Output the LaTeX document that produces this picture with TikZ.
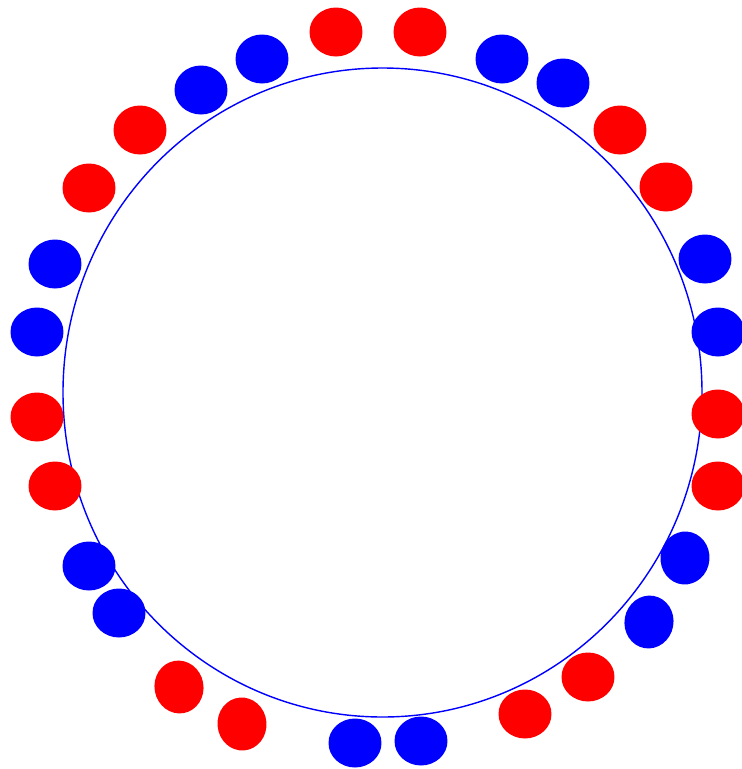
\documentclass[tikz,border=0pt]{standalone}
\usepackage{xcolor}
\usepackage{tikz}
\usetikzlibrary{shapes.geometric}

\begin{document}
\begin{tikzpicture}[
  x=0.02cm, y=-0.02cm,
  ring/.style={draw=blue, line width=0.8pt},
  dot/.style={ellipse, inner sep=0pt, minimum width=1.06cm, minimum height=0.98cm},
]
  \useasboundingbox (0,0) rectangle (742,769);

  \draw[ring] (382.5,392.5) ellipse [x radius=319.5, y radius=324.5];

  % beads round the ring, clockwise from the top
  \foreach \pos/\col/\ang [count=\i] in {
      {(336,32)}/red/0, {(420,32)}/red/0,
      {(502,59)}/blue/0, {(563,83)}/blue/0,
      {(620,130)}/red/0, {(666,187)}/red/0,
      {(705,259)}/blue/0, {(718,332)}/blue/0,
      {(718,414)}/red/0, {(718,486)}/red/0,
      {(685,558)}/blue/85, {(649,622)}/blue/80,
      {(588,677)}/red/0, {(525,714)}/red/0,
      {(421,741)}/blue/0, {(355,743)}/blue/0,
      {(242,724)}/red/95, {(179,687)}/red/100,
      {(119,613)}/blue/0, {(89,566)}/blue/0,
      {(55,486)}/red/0, {(37,417)}/red/0,
      {(37,332)}/blue/0, {(55,264)}/blue/0,
      {(89,188)}/red/0, {(140,130)}/red/0,
      {(201,90)}/blue/0, {(262,59)}/blue/0}
    \node[dot, fill=\col, rotate=\ang] (bead\i) at \pos {};
\end{tikzpicture}
\end{document}
